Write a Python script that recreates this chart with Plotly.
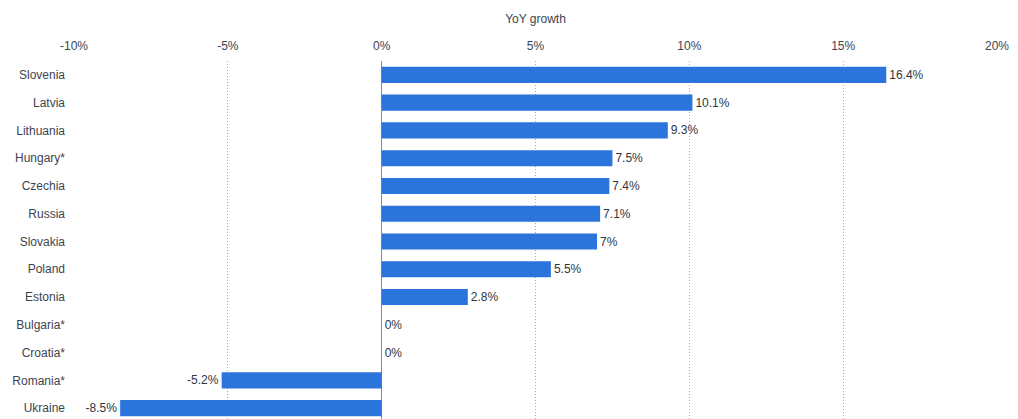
import plotly.graph_objects as go

countries = ["Slovenia", "Latvia", "Lithuania", "Hungary*", "Czechia", "Russia", "Slovakia",
             "Poland", "Estonia", "Bulgaria*", "Croatia*", "Romania*", "Ukraine"]
growth = [16.4, 10.1, 9.3, 7.5, 7.4, 7.1, 7, 5.5, 2.8, 0, 0, -5.2, -8.5]
tick_vals = [-10, -5, 0, 5, 10, 15, 20]
tick_text = ["-10%", "-5%", "0%", "5%", "10%", "15%", "20%"]

labels = [f"{v:g}%" for v in growth]

fig = go.Figure(go.Bar(
    x=growth, y=countries, orientation="h",
    marker=dict(color="#2a74db", line=dict(width=0)),
    text=labels, texttemplate="%{text}", textposition="outside", cliponaxis=False,
    textfont=dict(size=12, color="#2f3642", family="Liberation Sans, Arial, sans-serif"),
    hoverinfo="skip",
))

fig.update_layout(
    width=1018, height=419,
    margin=dict(l=66, r=29, t=53, b=5),
    paper_bgcolor="white", plot_bgcolor="white",
    bargap=0.42, showlegend=False,
    font=dict(family="Liberation Sans, Arial, sans-serif", size=12, color="#3d4451"),
    xaxis=dict(
        side="top", range=[-10, 20], tickvals=tick_vals, ticktext=tick_text,
        showgrid=True, gridcolor="#a8a8a8", griddash="1px,2px", gridwidth=1,
        zeroline=True, zerolinecolor="#8a8a8a", zerolinewidth=1,
        showline=False, ticks="", ticklabelstandoff=8, automargin=False,
        tickfont=dict(size=12, color="#3d4451"),
        title=dict(text="YoY growth", standoff=12, font=dict(size=12, color="#3d4451")),
    ),
    yaxis=dict(
        type="category", range=[12.5, -0.5], showgrid=False, showline=False,
        ticks="", ticklabelstandoff=8, automargin=False,
        tickfont=dict(size=12, color="#3d4451"),
    ),
)

fig.write_html("out.html")
